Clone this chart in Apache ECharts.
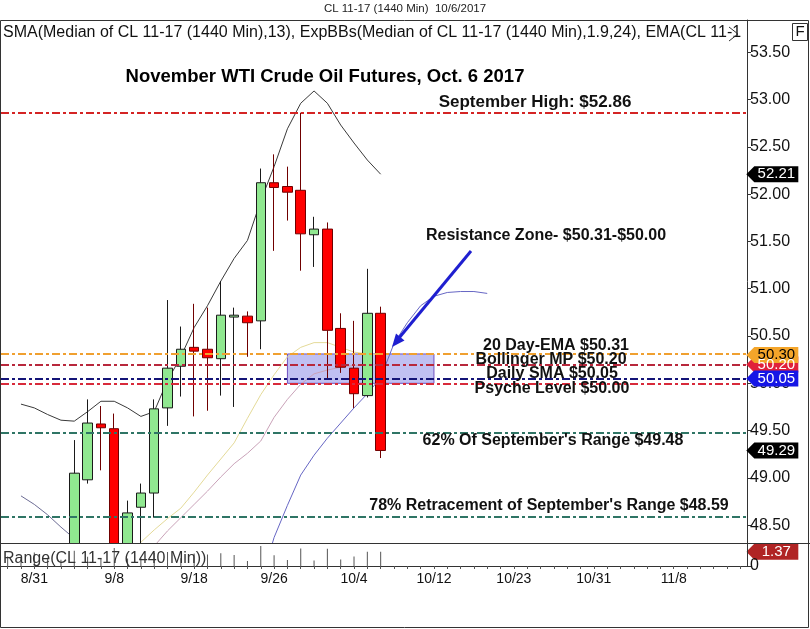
<!DOCTYPE html>
<html><head><meta charset="utf-8">
<script src="https://cdn.jsdelivr.net/npm/echarts@6/dist/echarts.min.js"></script>
<style>html,body{margin:0;padding:0;background:#fff}#c{width:810px;height:629px}</style>
</head><body><div id="c"></div>
<script>
// ---------- DATA ----------
const categories = ['8/29','8/30','8/31','9/1','9/4','9/5','9/6','9/7','9/8','9/11','9/12','9/13','9/14','9/15',
  '9/18','9/19','9/20','9/21','9/22','9/25','9/26','9/27','9/28','9/29','10/2','10/3','10/4','10/5','10/6',
  '10/9','10/10','10/11','10/12','10/13','10/16','10/17','10/18','10/19','10/23','10/24','10/25','10/26','10/27',
  '10/30','10/31','11/1','11/2','11/3','11/6','11/7','11/8','11/9','11/10','11/13','11/14','11/15'];
const xTickLabels = ['8/31','9/8','9/18','9/26','10/4','10/12','10/23','10/31','11/8'];

// OHLC (8/29 .. 10/6)
const openP  = [46.60,46.90,46.50,47.60,47.80,48.10,48.98,49.57,49.52,48.25,48.69,48.84,49.74,50.18,50.38,50.36,50.26,50.70,50.71,50.66,52.12,52.08,52.04,51.57,51.63,50.58,50.16,49.87,50.74];
const closeP = [46.90,46.40,47.60,47.70,48.00,49.05,49.58,49.53,48.07,48.63,48.84,49.73,50.16,50.36,50.34,50.27,50.72,50.72,50.64,52.12,52.07,52.02,51.58,51.63,50.56,50.17,49.89,50.74,49.29];
const lowP   = [46.10,46.20,46.40,47.30,47.60,47.95,48.94,49.08,47.95,48.05,48.20,48.58,49.55,49.86,49.65,49.71,49.87,49.75,50.28,50.36,51.40,51.72,51.19,51.23,50.05,50.11,49.74,49.85,49.21];
const highP  = [47.00,47.00,47.70,48.10,48.20,49.40,49.83,49.76,49.68,48.76,48.94,49.83,50.88,50.60,50.84,50.80,51.08,50.80,50.76,52.27,52.42,52.29,52.86,51.76,51.70,50.74,50.66,51.21,50.81];

// indicator lines (start index, values)
const upperBandStart = 1;
const upperBand = [49.78,49.74,49.67,49.61,49.60,49.70,49.81,49.81,49.74,49.65,49.70,50.03,50.28,50.59,50.82,51.08,51.32,51.51,51.93,52.29,52.69,52.96,53.09,52.96,52.73,52.54,52.36,52.21];
const lowerBandStart = 1;
const lowerBand = [48.81,48.72,48.61,48.48,48.36,48.20];
const emaStart = 9;
const emaLine = [48.15,48.32,48.45,48.57,48.68,48.85,49.03,49.20,49.37,49.63,49.88,50.09,50.28,50.38,50.43,50.43,50.38,50.33,50.31,50.30];
const midStart = 10;
const midBand = [48.10,48.28,48.44,48.58,48.72,48.86,49.01,49.15,49.26,49.39,49.64,49.83,49.99,50.10,50.14,50.17,50.19,50.19,50.20];
const blueStart = 19;
const blueLine = [47.90,48.37,48.71,49.03,49.24,49.42,49.58,49.74,49.89,50.06,50.42,50.64,50.82,50.92,50.96,50.97,50.97,50.95];

// daily range panel
const rangeValues = [0.90,0.80,1.30,0.80,0.60,1.45,0.89,0.68,1.73,0.71,0.74,1.25,1.33,0.74,1.19,1.09,1.21,1.05,0.48,1.91,1.02,0.57,1.67,0.53,1.65,0.63,0.92,1.36,1.37];

// horizontal levels
const levelValues = [52.86, 50.31, 50.20, 50.05, 50.00, 49.48, 48.59];
const levelColors = ['#d42424','#f0a030','#b8283c','#141478','#d82a3a','#2f7565','#2f7565'];
const levelTexts  = ['September High: $52.86','20 Day-EMA $50.31','Bollinger MP $50.20','Daily SMA $50.05',
                     'Psyche Level $50.00',"62% Of September's Range $49.48","78% Retracement of September's Range $48.59"];
const zoneRange = [50.31, 50.00];
const zoneCats = ['9/27','10/12'];

// right axis tags
const tagValues = [52.21, 50.20, 50.30, 50.05, 49.29];
const tagColors = ['#000000','#e0203a','#f4a52a','#1616e6','#000000'];
const tagTextColors = ['#fff','#fff','#000','#fff','#fff'];
const rangeTag = 1.37;

// axis ticks
const priceAxisMin = 48.5, priceAxisMax = 53.5, priceAxisStep = 0.5;

// ---------- BUILD ----------
const N = categories.length;
function at(start, vals){ const a = new Array(N).fill(null); vals.forEach((v,i)=>a[start+i]=v); return a; }
const candleData = categories.map((c,i)=> i < openP.length ? [openP[i],closeP[i],lowP[i],highP[i]] : '-');
const lastCat = categories[N-1];
const labelIdx = xTickLabels.map(l => categories.indexOf(l));
const FONT = 'Arial, "Liberation Sans", sans-serif';

function tag(v, txt, bg, fg){
  return {coord:[lastCat, v], value:v,
    symbol:'path://M0,8L8,0L52,0L52,16L8,16Z', symbolSize:[52,16], symbolOffset:[32,0], symbolKeepAspect:false,
    itemStyle:{color:bg},
    label:{show:true, formatter:txt, color:fg, fontSize:15, fontFamily:FONT, offset:[4,0]}};
}

const chart = echarts.init(document.getElementById('c'), null, {renderer:'canvas'});

const G = {left:1, width:746};
const ann = (x,y,t,size)=>({type:'text', x:x, y:y, z:50, style:{text:t, font:'bold '+(size||16)+'px '+FONT, fill:'#111', textAlign:'center', textVerticalAlign:'middle'}});
const option = {
  animation:false,
  backgroundColor:'#fff',
  textStyle:{fontFamily:FONT},
  grid:[
    {left:G.left, width:G.width, top:20, height:523},
    {left:G.left, width:G.width, top:543, height:23},
    {left:G.left, width:G.width, top:52.2, height:473}
  ],
  xAxis:[
    {gridIndex:0, type:'category', data:categories, boundaryGap:true, axisLine:{show:false}, axisTick:{show:false}, axisLabel:{show:false}},
    {gridIndex:1, type:'category', data:categories, boundaryGap:true, z:30,
      axisLine:{lineStyle:{color:'#333',width:1}},
      axisTick:{show:true, alignWithLabel:true, interval:0, length:3, lineStyle:{color:'#555'}},
      axisLabel:{interval:(i)=>labelIdx.indexOf(i)>=0, fontSize:14, color:'#111', margin:6, fontFamily:FONT}},
    {gridIndex:2, type:'category', data:categories, show:false}
  ],
  yAxis:[
    {gridIndex:0, type:'value', position:'right', min:48.312, max:53.84, axisLine:{show:true, lineStyle:{color:'#333'}},
      axisTick:{show:false}, axisLabel:{show:false}, splitLine:{show:false}},
    {gridIndex:1, type:'value', position:'right', min:0, max:2.2, interval:2.2, z:30, axisLine:{show:true, lineStyle:{color:'#333'}},
      axisTick:{show:true, length:4, lineStyle:{color:'#333'}}, splitLine:{show:false},
      axisLabel:{fontSize:16, color:'#111', margin:3, formatter:v=> v===0 ? '0' : '', fontFamily:FONT}},
    {gridIndex:2, type:'value', position:'right', min:priceAxisMin, max:priceAxisMax, interval:priceAxisStep,
      axisLine:{show:false}, axisTick:{show:true, length:4, lineStyle:{color:'#333'}}, splitLine:{show:false},
      axisLabel:{fontSize:16, color:'#111', margin:3, formatter:v=>v.toFixed(2), fontFamily:FONT}}
  ],
  series:[
    {type:'line', xAxisIndex:0, yAxisIndex:0, data:[], silent:true, z:1,
      markArea:{silent:true, itemStyle:{color:'rgba(140,140,232,0.55)', borderColor:'#7050c0', borderWidth:1},
        data:[[{xAxis:zoneCats[0], yAxis:zoneRange[0]},{xAxis:zoneCats[1], yAxis:zoneRange[1]}]]},
      markLine:{silent:true, symbol:['none','none'], label:{show:false},
        data: levelValues.map((v,i)=>({yAxis:v, lineStyle:{color:levelColors[i], width:2, type:[8,3,3,3]}}))}
    },
    {type:'line', name:'upper', data:at(upperBandStart, upperBand), showSymbol:false, clip:true, lineStyle:{color:'#3a3a3a', width:1}, z:3},
    {type:'line', name:'lower', data:at(lowerBandStart, lowerBand), showSymbol:false, clip:true, lineStyle:{color:'#6c6c94', width:1}, z:3},
    {type:'line', name:'ema', data:at(emaStart, emaLine), showSymbol:false, clip:true, lineStyle:{color:'#e4da98', width:1}, z:3},
    {type:'line', name:'mid', data:at(midStart, midBand), showSymbol:false, clip:true, lineStyle:{color:'#c9a2b8', width:1}, z:3},
    {type:'line', name:'blue', data:at(blueStart, blueLine), showSymbol:false, clip:true, lineStyle:{color:'#6666c4', width:1}, z:3},
    {type:'candlestick', data:candleData, barWidth:10, z:4, clip:true,
      itemStyle:{color:'#90e890', color0:'#ff0000', borderColor:'#1a1a1a', borderColor0:'#700000', borderWidth:1}},
    {type:'line', data:[], silent:true, z:40,
      markPoint:{silent:true, data: tagValues.map((v,i)=>tag(v, v.toFixed(2), tagColors[i], tagTextColors[i]))}},
    {type:'bar', xAxisIndex:1, yAxisIndex:1, data:at(0, rangeValues), barWidth:1, itemStyle:{color:'#555'}, z:20,
      markPoint:{silent:true, data:[tag(rangeTag, rangeTag.toFixed(2), '#b02424', '#fff')]}},
    {type:'line', xAxisIndex:2, yAxisIndex:2, data:[], silent:true}
  ],
  graphic:[
    // panel mask: keeps price marks inside the price panel
    {type:'rect', z:10, shape:{x:1, y:544, width:745.5, height:83}, style:{fill:'#fff'}, silent:true},
    {type:'rect', z:45, shape:{x:0.5, y:20.5, width:808, height:607}, style:{fill:'none', stroke:'#333', lineWidth:1}, silent:true},
    {type:'line', z:45, shape:{x1:0, y1:543.5, x2:810, y2:543.5}, style:{stroke:'#333', lineWidth:1}, silent:true},
    {type:'text', x:405, y:9, style:{text:'CL 11-17 (1440 Min)  10/6/2017', font:'11.5px '+FONT, fill:'#222', textAlign:'center', textVerticalAlign:'middle'}},
    {type:'text', x:3, y:33, z:50, style:{text:'SMA(Median of CL 11-17 (1440 Min),13), ExpBBs(Median of CL 11-17 (1440 Min),1.9,24), EMA(CL 11-17',
      font:'16px '+FONT, fill:'#111', textVerticalAlign:'middle', width:742, overflow:'truncate', ellipsis:''}},
    {type:'polyline', z:50, shape:{points:[[729,27],[738,34],[729,41]]}, style:{stroke:'#333', fill:'none', lineWidth:1}},
    {type:'rect', z:50, shape:{x:792.5, y:23.5, width:15, height:17}, style:{fill:'#fff', stroke:'#333', lineWidth:1}},
    {type:'text', z:51, x:800, y:32, style:{text:'F', font:'15px '+FONT, fill:'#111', textAlign:'center', textVerticalAlign:'middle'}},
    {type:'text', z:50, x:325, y:77, style:{text:'November WTI Crude Oil Futures, Oct. 6 2017', font:'bold 18.5px '+FONT, fill:'#000', textAlign:'center', textVerticalAlign:'middle'}},
    ann(535,102,levelTexts[0],17),
    ann(546,236,'Resistance Zone- $50.31-$50.00'),
    ann(556,346,levelTexts[1]),
    ann(551,360,levelTexts[2]),
    ann(552,374,levelTexts[3]),
    ann(552,389,levelTexts[4]),
    ann(553,441,levelTexts[5]),
    ann(549,506,levelTexts[6]),
    {type:'line', z:50, shape:{x1:471, y1:251, x2:399, y2:338}, style:{stroke:'#1f1fd0', lineWidth:3}},
    {type:'polygon', z:50, shape:{points:[[392,347],[404.5,340.5],[396,333.5]]}, style:{fill:'#1f1fd0'}},
    {type:'text', z:50, x:3, y:559, style:{text:'Range(CL 11-17 (1440 Min))', font:'16px '+FONT, fill:'#333', textVerticalAlign:'middle'}}
  ]
};
chart.setOption(option);
</script></body></html>
